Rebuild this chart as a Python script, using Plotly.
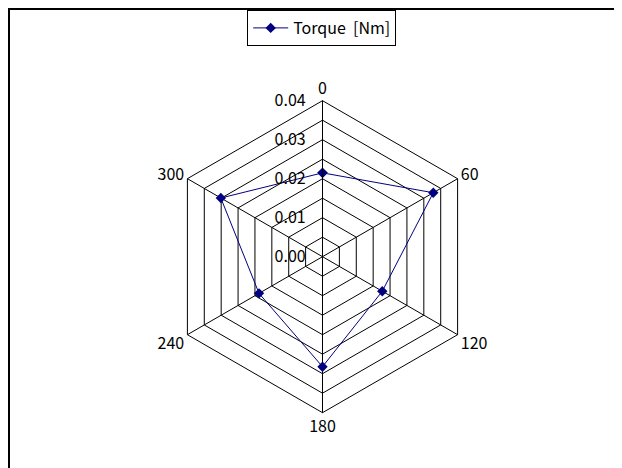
import plotly.graph_objects as go

angles = ["0", "60", "120", "180", "240", "300"]
torque = [0.0215, 0.0328, 0.0177, 0.0282, 0.0188, 0.0301]
radial_ticks = [0.0, 0.005, 0.01, 0.015, 0.02, 0.025, 0.03, 0.035, 0.04]
radial_labels = ["0.00", "", "0.01", "", "0.02", "", "0.03", "", "0.04"]
series_name = "Torque\u00a0 [Nm]"

FONT = "Noto Sans CJK JP"
W, H = 622, 468
cx, cy, R = 314.5, 248.7, 156
PAD = "\u00a0" * 3

fig = go.Figure()
fig.add_trace(go.Scatterpolar(
    r=torque + torque[:1],
    theta=angles + angles[:1],
    mode="lines+markers",
    name=series_name,
    line=dict(color="#000080", width=1),
    marker=dict(symbol="diamond", size=8, color="#000080"),
))

fig.update_layout(
    width=W, height=H,
    margin=dict(l=0, r=0, t=0, b=0),
    paper_bgcolor="white",
    font=dict(family=FONT, size=16, color="black"),
    showlegend=True,
    legend=dict(
        x=313.7 / W, xanchor="center",
        y=1 - 2 / H, yanchor="top",
        bordercolor="black", borderwidth=1,
        bgcolor="white",
        itemwidth=35,
        font=dict(family=FONT, size=16, color="black"),
    ),
    polar=dict(
        domain=dict(x=[(cx - R) / W, (cx + R) / W],
                    y=[(H - cy - R) / H, (H - cy + R) / H]),
        gridshape="linear",
        bgcolor="white",
        radialaxis=dict(
            range=[0, 0.04],
            tickvals=radial_ticks,
            ticktext=[t + PAD if t else t for t in radial_labels],
            angle=90,
            tickangle=90,
            side="counterclockwise",
            showline=True,
            linecolor="black",
            linewidth=1,
            gridcolor="black",
            gridwidth=1,
            ticks="",
            tickfont=dict(family=FONT, size=16, color="black"),
        ),
        angularaxis=dict(
            type="category",
            categoryarray=angles,
            direction="clockwise",
            rotation=90,
            showline=True,
            linecolor="black",
            linewidth=1,
            gridcolor="black",
            gridwidth=1,
            ticks="",
            tickfont=dict(family=FONT, size=16, color="black"),
        ),
    ),
    shapes=[
        dict(type="rect", xref="paper", yref="paper",
             x0=1 / W, x1=1 - 1 / W, y0=1 / H, y1=1 - 1 / H,
             line=dict(color="black", width=2)),
    ],
)

fig.write_html("out.html")
